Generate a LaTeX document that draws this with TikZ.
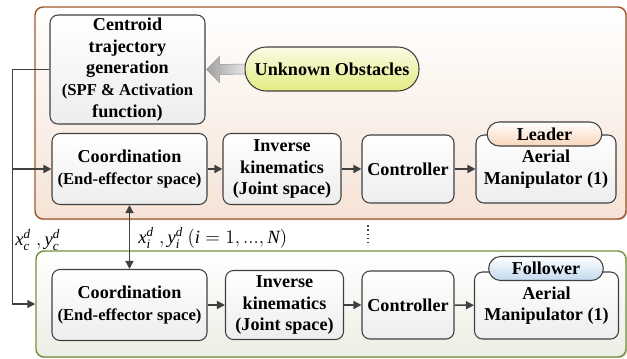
\documentclass[tikz,border=0pt]{standalone}
\usepackage{fontspec}
\setmainfont{Liberation Serif}
\usetikzlibrary{arrows.meta, positioning, calc, shadows}

\definecolor{leadedge}{HTML}{A0572B}
\definecolor{leadfill}{HTML}{F5E3D6}
\definecolor{foledge}{HTML}{76923C}
\definecolor{folfill}{HTML}{ECEEE4}
\definecolor{boxedge}{HTML}{404040}
\definecolor{obsfill}{HTML}{E3EC80}
\definecolor{tagpeach}{HTML}{F8D5BA}
\definecolor{tagblue}{HTML}{C2D9EE}

\begin{document}
\begin{tikzpicture}[
        x=0.75pt, y=-0.75pt,
        region/.style={rounded corners=6pt, line width=1.1pt, inner sep=0pt,
                       drop shadow={shadow xshift=0.8pt, shadow yshift=-0.8pt, opacity=0.35}},
        box/.style={draw=boxedge, rounded corners=6pt, line width=0.8pt,
                    top color=white, bottom color=gray!14, align=center,
                    font=\bfseries\fontsize{13.6}{16.3}\selectfont,
                    inner sep=0.5pt, minimum height=53.25pt},
        tag/.style={draw=boxedge, rounded corners=9pt, line width=0.8pt,
                    minimum width=86pt, minimum height=18pt, inner sep=0pt,
                    font=\bfseries\fontsize{13.6}{16}\selectfont},
        arrow/.style={-{Triangle[length=6pt, width=6pt]}, draw=boxedge, line width=1.1pt},
        lbl/.style={anchor=west, inner sep=0pt, font=\fontsize{14}{16}\selectfont}
    ]
        \useasboundingbox (0,0) rectangle (627,358);

        % leader and follower areas
        \node[region, draw=leadedge, top color=white, bottom color=leadfill,
              minimum width=443.25pt, minimum height=159pt] (leadreg) at (330.5,113) {};
        \node[region, draw=foledge, top color=white, bottom color=folfill,
              minimum width=442.5pt, minimum height=79.5pt] (folreg) at (331,304) {};

        \node[box, minimum width=116.25pt, minimum height=81.75pt] (cent) at (127.5,69.5)
            {Centroid\\trajectory\\generation\\{\fontsize{12.5}{16.3}\selectfont(SPF \& Activation}\\function)};
        \node[box, rounded corners=16pt, top color=obsfill!20, bottom color=obsfill,
              minimum width=130.5pt, minimum height=33pt] (obs) at (332,69) {Unknown Obstacles};

        % leader row
        \node[box, minimum width=116.25pt] (lcoord) at (129.5,169)
            {Coordination\\{\fontsize{12.5}{15}\selectfont(End-effector space)}};
        \node[box, minimum width=88.5pt] (lik) at (282,169) {Inverse\\kinematics\\(Joint space)};
        \node[box, minimum width=69pt, minimum height=51pt] (lctrl) at (408,169) {Controller};
        \node[box, minimum width=105pt, minimum height=51pt] (lam) at (546,169) {Aerial\\Manipulator (1)};
        \node[tag, top color=white, bottom color=tagpeach] (ltag) at (544.5,134) {Leader};

        % follower row
        \node[box, minimum width=116.25pt] (fcoord) at (129.5,305)
            {Coordination\\{\fontsize{12.5}{15}\selectfont(End-effector space)}};
        \node[box, minimum width=88.5pt, minimum height=51.75pt] (fik) at (284.5,305) {Inverse\\kinematics\\(Joint space)};
        \node[box, minimum width=69pt, minimum height=51pt] (fctrl) at (408,305) {Controller};
        \node[box, minimum width=108pt, minimum height=50.25pt] (fam) at (546.5,305.5) {Aerial\\Manipulator (1)};
        \node[tag, top color=white, bottom color=tagblue] (ftag) at (546,268.5) {Follower};

        % obstacle input
        \shade[left color=gray!75, right color=gray!20, draw=gray!80, line width=0.4pt]
            ($(obs.west)+(0,-5)$) -- ($(cent.east)+(14,-5)$) -- ($(cent.east)+(14,-13)$)
            -- ($(cent.east)+(1,0)$) -- ($(cent.east)+(14,13)$) -- ($(cent.east)+(14,5)$)
            -- ($(obs.west)+(0,5)$) -- cycle;

        \draw[arrow] (lcoord) -- (lik);
        \draw[arrow] (lik) -- (lctrl);
        \draw[arrow] (lctrl) -- (lam);
        \draw[arrow] (fcoord) -- (fik);
        \draw[arrow] (fik) -- (fctrl);
        \draw[arrow] (fctrl) -- (fam);
        \draw[arrow, {Triangle[length=6pt, width=6pt]}-{Triangle[length=6pt, width=6pt]}] (lcoord) -- (fcoord);

        \draw[arrow] (cent.west) -- ++(-37,0) coordinate (split) |- (folreg.west);
        \draw[arrow] (split |- lcoord.west) -- (lcoord.west);

        \node[lbl] (xc) at (15,240) {$\mathit{x}_{\mathit{c}}^{\mathit{d}}\;,\mathit{y}_{\mathit{c}}^{\mathit{d}}$};
        \node[lbl] (xi) at (138,238) {$\mathit{x}_{\mathit{i}}^{\mathit{d}}\;,\mathit{y}_{\mathit{i}}^{\mathit{d}}\ (\mathit{i}=1,...,\mathit{N})$};

        \draw[boxedge, line width=1.2pt, dotted] (368,225) -- (368,243);
    \end{tikzpicture}
\end{document}
